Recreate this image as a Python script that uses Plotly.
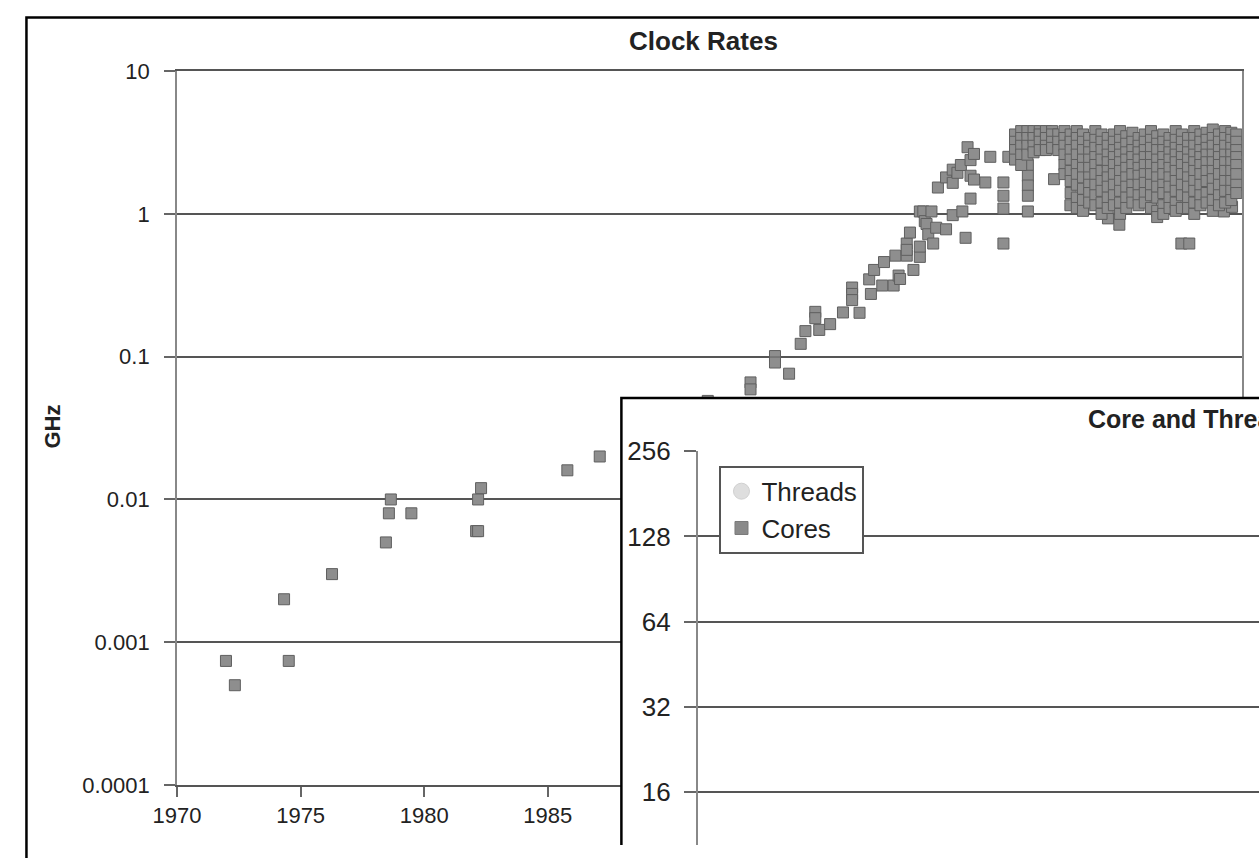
import plotly.graph_objects as go

W, H = 1259, 858
FONT = "Liberation Sans, Arial, sans-serif"

# ---------------- data ----------------
# isolated early / mid points: year, clock rate in GHz
point_years = [
    1971.98, 1972.34, 1974.33, 1974.52, 1976.27, 1978.45, 1978.57, 1978.65,
    1979.48, 1982.10, 1982.18, 1982.18, 1982.30, 1985.79, 1987.10,
    1991.47, 1993.20, 1993.20, 1994.19, 1994.19, 1994.76, 1995.23, 1995.42,
    1995.82, 1995.82, 1995.98, 1996.42, 1996.94, 1997.31, 1997.31, 1997.31,
    1997.61, 1998.00, 1998.07, 1998.20, 1998.53, 1998.60, 1998.99, 1999.06,
    1999.19, 1999.25, 1999.52, 1999.52, 1999.52, 1999.65, 1999.79, 2000.05,
    2000.05, 2000.05, 2000.19, 2000.25, 2000.32, 2000.39, 2000.52, 2000.59,
    2000.71, 2000.78, 2001.11, 2001.11, 2001.38, 2001.38, 2001.38, 2001.57,
    2001.71, 2001.77, 2001.90, 2001.98, 2002.10, 2002.10, 2002.10, 2002.24,
    2002.24, 2002.70, 2002.90, 2003.43, 2003.43, 2003.43, 2003.43, 2003.63,
    2004.42, 2004.42, 2004.42, 2004.42, 2004.42, 2005.48, 2006.14, 2006.67,
    2007.66, 2008.12, 2010.63, 2010.95, 2012.35, 2012.68,
]
point_ghz = [
    0.00074, 0.0005, 0.002, 0.00074, 0.003, 0.005, 0.008, 0.01,
    0.008, 0.006, 0.006, 0.01, 0.012, 0.016, 0.02,
    0.049, 0.066, 0.059, 0.101, 0.091, 0.076, 0.123, 0.151,
    0.206, 0.186, 0.154, 0.169, 0.204, 0.305, 0.275, 0.249,
    0.203, 0.348, 0.275, 0.405, 0.315, 0.46, 0.315, 0.51,
    0.37, 0.35, 0.51, 0.62, 0.56, 0.74, 0.405, 0.50,
    0.59, 1.04, 1.04, 0.89, 0.85, 0.72, 1.04, 0.62,
    0.80, 1.53, 0.78, 1.8, 1.65, 0.98, 2.04, 1.94,
    2.2, 1.04, 0.68, 2.93, 2.38, 1.85, 1.28, 2.63,
    1.74, 1.66, 2.51, 1.66, 1.34, 1.09, 0.62, 2.51,
    2.2, 1.85, 1.58, 1.34, 1.04, 1.75, 1.15, 1.10,
    0.93, 0.84, 0.62, 0.62, 1.04, 1.12,
]

# dense multi-core era band: one column of clock rates per release date
band_years = [
    2003.90, 2004.15, 2004.40, 2004.65, 2004.90, 2005.15, 2005.40, 2005.65,
    2005.90, 2006.15, 2006.40, 2006.65, 2006.90, 2007.15, 2007.40, 2007.65,
    2007.90, 2008.15, 2008.40, 2008.65, 2008.90, 2009.15, 2009.40, 2009.65,
    2009.90, 2010.15, 2010.40, 2010.65, 2010.90, 2011.15, 2011.40, 2011.65,
    2011.90, 2012.15, 2012.40, 2012.65, 2012.85,
]
band_ghz = [
    [3.6, 3.2, 2.8, 2.4],
    [3.8, 3.4, 3.0, 2.6, 2.2],
    [3.8, 3.4, 3.0, 2.6],
    [3.8, 3.4, 3.0, 2.7],
    [3.8, 3.6, 3.2, 2.8],
    [3.8, 3.4, 3.0, 2.8],
    [3.8, 3.6, 3.2, 2.9],
    [3.6, 3.2, 2.8],
    [3.8, 3.4, 3.0, 2.6, 2.2, 1.9],
    [3.6, 3.2, 2.8, 2.4, 2.0, 1.7, 1.4],
    [3.8, 3.4, 3.0, 2.6, 2.2, 1.9, 1.6, 1.3, 1.1],
    [3.6, 3.2, 2.8, 2.4, 2.1, 1.8, 1.5, 1.25, 1.05],
    [3.4, 3.0, 2.7, 2.4, 2.1, 1.8, 1.6, 1.4, 1.2],
    [3.8, 3.3, 2.9, 2.5, 2.2, 1.9, 1.6, 1.35, 1.15],
    [3.6, 3.2, 2.8, 2.4, 2.0, 1.7, 1.45, 1.2, 1.0],
    [3.4, 3.0, 2.6, 2.3, 2.0, 1.8, 1.55, 1.3, 1.1],
    [3.6, 3.2, 2.8, 2.5, 2.2, 1.9, 1.6, 1.35, 1.15],
    [3.8, 3.3, 2.9, 2.6, 2.3, 2.0, 1.7, 1.45, 1.2, 1.0],
    [3.5, 3.1, 2.7, 2.4, 2.1, 1.8, 1.55, 1.3, 1.1],
    [3.7, 3.2, 2.8, 2.5, 2.2, 1.9, 1.6, 1.4, 1.2],
    [3.4, 3.0, 2.7, 2.4, 2.1, 1.85, 1.6, 1.35, 1.15],
    [3.6, 3.2, 2.8, 2.5, 2.2, 1.9, 1.65, 1.4, 1.2],
    [3.8, 3.3, 2.9, 2.5, 2.2, 1.9, 1.6, 1.35, 1.1],
    [3.5, 3.1, 2.8, 2.4, 2.1, 1.8, 1.55, 1.3, 1.05, 0.95],
    [3.6, 3.2, 2.8, 2.5, 2.2, 1.9, 1.6, 1.4, 1.15, 1.0],
    [3.4, 3.0, 2.7, 2.4, 2.1, 1.8, 1.55, 1.3, 1.1],
    [3.8, 3.3, 2.9, 2.6, 2.3, 2.0, 1.7, 1.45, 1.2, 1.05],
    [3.6, 3.2, 2.8, 2.5, 2.2, 1.9, 1.6, 1.35, 1.1],
    [3.4, 3.0, 2.7, 2.4, 2.1, 1.8, 1.55, 1.3, 1.1],
    [3.8, 3.4, 3.0, 2.6, 2.3, 2.0, 1.7, 1.45, 1.2, 1.0],
    [3.6, 3.2, 2.8, 2.5, 2.2, 1.9, 1.6, 1.35, 1.15],
    [3.7, 3.3, 2.9, 2.6, 2.3, 2.0, 1.7, 1.4, 1.2],
    [3.9, 3.4, 3.0, 2.6, 2.3, 2.0, 1.75, 1.5, 1.25, 1.05],
    [3.6, 3.2, 2.8, 2.5, 2.2, 1.9, 1.6, 1.35, 1.15],
    [3.8, 3.4, 3.0, 2.6, 2.3, 2.0, 1.7, 1.45, 1.2],
    [3.7, 3.3, 2.9, 2.6, 2.3, 2.0, 1.7, 1.45, 1.25],
    [3.6, 3.2, 2.8, 2.5, 2.2, 1.9, 1.6, 1.4],
]

x_ticks = [1970, 1975, 1980, 1985, 1990, 1995, 2000, 2005, 2010]
y_ticks = [0.0001, 0.001, 0.01, 0.1, 1, 10]
y_tick_text = ["0.0001", "0.001", "0.01", "0.1", "1", "10"]
inset_ticks = [16, 32, 64, 128, 256]
inset_tick_text = ["16", "32", "64", "128", "256"]

# inset series: nothing of them is visible in the cropped picture
thread_years, thread_counts = [None], [None]
core_years, core_counts = [None], [None]

# ---------------- build ----------------
all_years = list(point_years)
all_ghz = list(point_ghz)
for yr, col in zip(band_years, band_ghz):
    all_years += [yr] * len(col)
    all_ghz += col


def fx(p):
    return p / W


def fy(p):
    return 1 - p / H


fig = go.Figure()
fig.add_trace(go.Scatter(
    x=all_years, y=all_ghz, mode="markers", xaxis="x", yaxis="y",
    marker=dict(symbol="square", size=11, color="#8e8e8e",
                line=dict(color="#5f5f5f", width=1)),
    showlegend=False, hoverinfo="skip"))
# holder subplot for the white inset panel
fig.add_trace(go.Scatter(x=[None], y=[None], xaxis="x2", yaxis="y2",
                         showlegend=False, hoverinfo="skip"))
fig.add_trace(go.Scatter(
    x=thread_years, y=thread_counts, name="Threads", mode="markers",
    xaxis="x3", yaxis="y3",
    marker=dict(symbol="circle", size=16, color="#dedede",
                line=dict(color="#d0d0d0", width=1))))
fig.add_trace(go.Scatter(
    x=core_years, y=core_counts, name="Cores", mode="markers",
    xaxis="x3", yaxis="y3",
    marker=dict(symbol="square", size=13, color="#8a8a8a",
                line=dict(color="#7a7a7a", width=1))))

px_per_year = 25.2
x_max = 1970 + (1242 - 156) / px_per_year

y2_top_px = 388
x2_left_px = 600

fig.update_layout(
    width=W, height=H,
    margin=dict(l=0, r=0, t=0, b=0),
    paper_bgcolor="white", plot_bgcolor="rgba(0,0,0,0)",
    font=dict(family=FONT, color="#222222", size=20),
    showlegend=True,
    xaxis=dict(domain=[fx(156), fx(1242)], range=[1970, x_max], anchor="y",
               tickmode="array", tickvals=x_ticks,
               ticks="outside", ticklen=10, tickwidth=2, tickcolor="#666666",
               showline=True, linecolor="#555555", linewidth=2, mirror=True,
               showgrid=False, zeroline=False,
               tickfont=dict(size=22, family=FONT)),
    yaxis=dict(domain=[fy(796), fy(58)], type="log", range=[-4, 1], anchor="x",
               tickmode="array", tickvals=y_ticks, ticktext=y_tick_text,
               ticks="outside", ticklen=11, tickwidth=2, tickcolor="#666666",
               ticklabelstandoff=10,
               showline=True, linecolor="#888888", linewidth=2, mirror=True,
               showgrid=True, gridcolor="#555555", gridwidth=2, zeroline=False,
               tickfont=dict(size=22, family=FONT)),
    xaxis2=dict(domain=[fx(x2_left_px), 1], range=[0, 1], anchor="y2",
                showgrid=False, zeroline=False, showline=False,
                showticklabels=False, ticks=""),
    yaxis2=dict(domain=[0, fy(y2_top_px)], range=[0, 1], anchor="x2",
                showgrid=False, zeroline=False, showline=False,
                showticklabels=False, ticks=""),
    xaxis3=dict(domain=[fx(687), 1], range=[0, 1], anchor="y3",
                showgrid=False, zeroline=False, showline=False,
                showticklabels=False, ticks=""),
    yaxis3=dict(domain=[0, fy(451)], type="log",
                range=[1.0157, 2.40824], anchor="x3",
                tickmode="array", tickvals=inset_ticks, ticktext=inset_tick_text,
                ticks="outside", ticklen=12, tickwidth=2, tickcolor="#666666",
                ticklabelstandoff=8,
                showline=True, linecolor="#888888", linewidth=2,
                showgrid=True, gridcolor="#555555", gridwidth=2, zeroline=False,
                tickfont=dict(size=26, family=FONT)),
    legend=dict(x=fx(709), y=fy(466), xanchor="left", yanchor="top",
                bgcolor="white", bordercolor="#555555", borderwidth=2,
                font=dict(size=26, family=FONT, color="#222222"),
                itemsizing="trace"),
    annotations=[
        dict(text="<b>Clock Rates</b>", x=fx(693), y=fy(27), xref="paper",
             yref="paper", showarrow=False, xanchor="center", yanchor="middle",
             font=dict(size=26, family=FONT, color="#222222")),
        dict(text="<b>GHz</b>", x=fx(29), y=fy(425), xref="paper",
             yref="paper", showarrow=False, textangle=-90,
             xanchor="center", yanchor="middle",
             font=dict(size=22, family=FONT, color="#222222")),
        dict(text="<b>Core and Threads</b>", x=fx(1083), y=fy(418),
             xref="paper", yref="paper", showarrow=False,
             xanchor="left", yanchor="middle",
             font=dict(size=25, family=FONT, color="#222222")),
    ],
    shapes=[
        # white inset panel (lives in subplot x2y2, above the main chart)
        dict(type="rect", xref="x2", yref="y2",
             x0=(609 - x2_left_px) / (W - x2_left_px), x1=1.2,
             y0=-0.2, y1=(H - 396) / (H - y2_top_px),
             fillcolor="white", line=dict(color="black", width=2.5),
             layer="below"),
        # outer frame of the figure
        dict(type="rect", xref="paper", yref="paper",
             x0=fx(2.5), x1=1.2, y0=-0.2, y1=fy(2.5),
             fillcolor="rgba(0,0,0,0)", line=dict(color="black", width=2.5),
             layer="above"),
    ],
)

fig.write_html("out.html", config={"displayModeBar": False},
               post_script="document.body.style.margin='0';"
                           "document.body.style.overflow='hidden';")
